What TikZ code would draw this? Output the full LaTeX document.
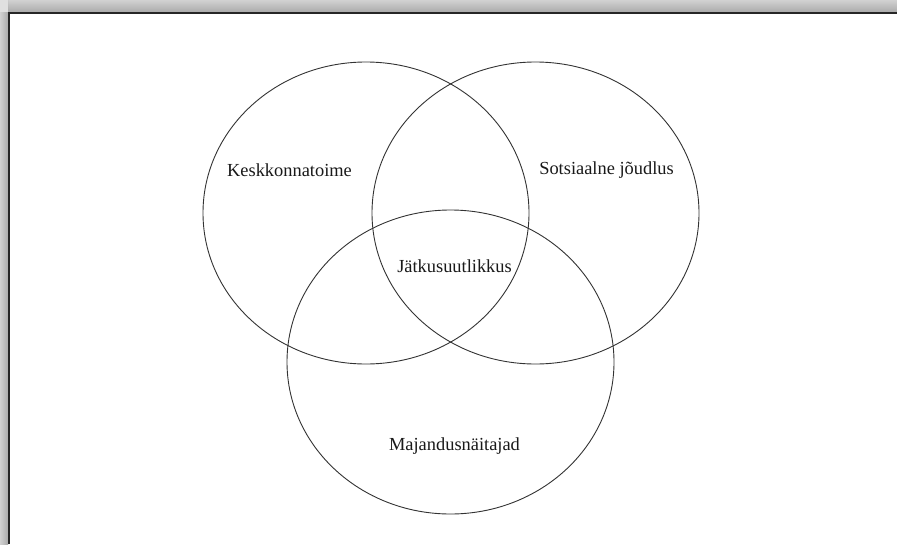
\documentclass[tikz,border=0pt]{standalone}
\usepackage{fontspec}
\setmainfont{Liberation Serif}
\begin{document}
\begin{tikzpicture}[x=1pt,y=-1pt,
  venn/.style={draw=black!80,line width=0.9pt},
  lbl/.style={inner sep=0pt,font=\fontsize{18.4}{22}\selectfont,text=black!90}]
\useasboundingbox (0,0) rectangle (897,544);
\fill[white] (0,0) rectangle (897,544);
% frame shadow
\shade[top color=black!18,bottom color=black!33] (0,0) rectangle (897,12);
\shade[left color=black!18,right color=black!33] (0,0) rectangle (8,544);
\fill[black!12] (0,0) rectangle (8,12);
\draw[black!85,line width=2pt] (8.5,544) -- (8.5,12.5) -- (897,12.5);
% ellipses
\draw[venn] (366,213) ellipse [x radius=163pt,y radius=151pt];
\draw[venn] (535.5,213) ellipse [x radius=163.5pt,y radius=151pt];
\draw[venn] (450.5,362) ellipse [x radius=163.5pt,y radius=152pt];
% labels
\node[lbl] (env) at (289.5,170) {Keskkonnatoime};
\node[lbl] (soc) at (606.5,170) {Sotsiaalne jõudlus};
\node[lbl] (sus) at (454.5,266) {Jätkusuutlikkus};
\node[lbl] (eco) at (454.5,446) {Majandusnäitajad};
\end{tikzpicture}
\end{document}
